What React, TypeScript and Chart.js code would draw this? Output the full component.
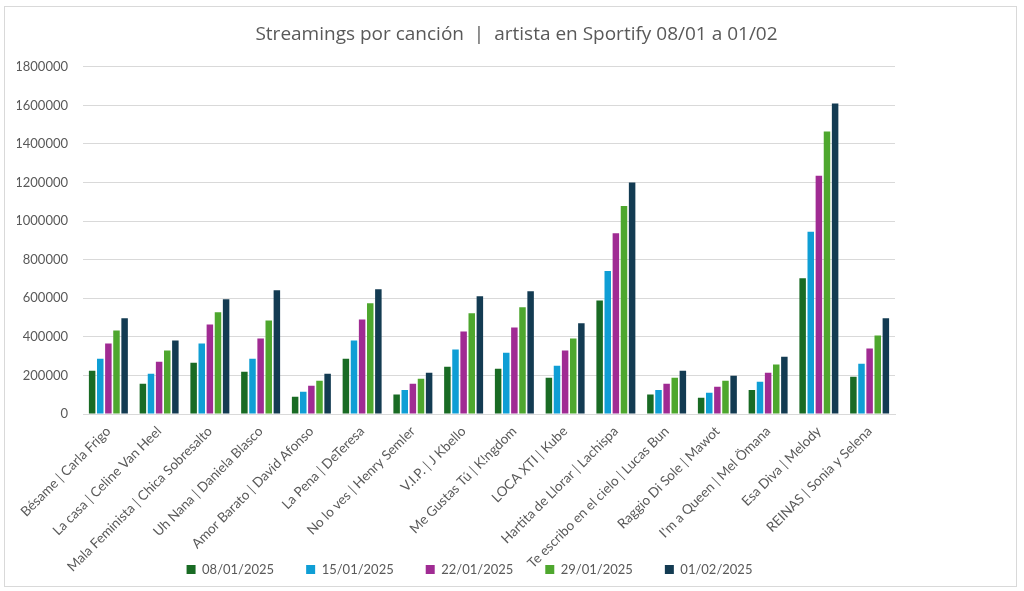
import { useEffect, useRef } from "react";
import { Chart, registerables } from "chart.js";

Chart.register(...registerables);

const songs = [
  "Bésame | Carla Frigo",
  "La casa | Celine Van Heel",
  "Mala Feminista | Chica Sobresalto",
  "Uh Nana | Daniela Blasco",
  "Amor Barato | David Afonso",
  "La Pena | DeTeresa",
  "No lo ves | Henry Semler",
  "V.I.P. | J Kbello",
  "Me Gustas Tú | K!ngdom",
  "LOCA XTI | Kube",
  "Hartita de Llorar | Lachispa",
  "Te escribo en el cielo | Lucas Bun",
  "Raggio Di Sole | Mawot",
  "I'm a Queen | Mel Ömana",
  "Esa Diva | Melody",
  "REINAS | Sonia y Selena",
];

const dates = ["08/01/2025", "15/01/2025", "22/01/2025", "29/01/2025", "01/02/2025"];

const week1 = [224000, 157000, 266000, 219000, 89000, 287000, 101000, 245000, 235000, 188000, 588000, 101000, 84000, 125000, 704000, 193000];
const week2 = [287000, 209000, 365000, 287000, 115000, 381000, 125000, 334000, 318000, 250000, 742000, 125000, 110000, 167000, 945000, 261000];
const week3 = [365000, 271000, 464000, 391000, 146000, 490000, 157000, 428000, 449000, 329000, 937000, 157000, 141000, 214000, 1235000, 339000];
const week4 = [433000, 329000, 527000, 485000, 172000, 574000, 183000, 522000, 553000, 391000, 1078000, 188000, 172000, 256000, 1464000, 407000];
const week5 = [496000, 381000, 595000, 642000, 209000, 647000, 214000, 610000, 637000, 470000, 1200000, 224000, 198000, 297000, 1610000, 496000];

const colors = ["#196B24", "#0F9ED5", "#A02B93", "#4EA72E", "#133B52"];

const TITLE_FONT = "'Open Sans', sans-serif";
const FONT = "Lato, sans-serif";
const TEXT = "#595959";
const GRID = "#d9d9d9";

// Chart.js widens the left margin for long rotated labels, the original lets them hang
// out past the axis, so the category labels are drawn here at the axis ticks instead
const slantedLabels = {
  id: "slantedLabels",
  afterDraw(chart) {
    const x = chart.scales.x;
    const ctx = chart.ctx;
    ctx.save();
    ctx.font = `13.5px ${FONT}`;
    ctx.fillStyle = TEXT;
    ctx.textAlign = "right";
    ctx.textBaseline = "middle";
    x.getLabels().forEach((label, i) => {
      ctx.save();
      ctx.translate(x.getPixelForTick(i), x.top + 15);
      ctx.rotate(-Math.PI / 4);
      ctx.fillText(label, 0, 0);
      ctx.restore();
    });
    ctx.restore();
  },
};

export default function App() {
  const canvasRef = useRef<HTMLCanvasElement>(null);
  const chartRef = useRef<Chart | null>(null);

  useEffect(() => {
    if (!canvasRef.current) return;
    if (chartRef.current) chartRef.current.destroy();

    const series = [week1, week2, week3, week4, week5];

    chartRef.current = new Chart(canvasRef.current, {
      type: "bar",
      data: {
        labels: songs,
        datasets: series.map((data, i) => ({
          label: dates[i],
          data,
          backgroundColor: colors[i],
          categoryPercentage: 0.8,
          barPercentage: 0.8,
        })),
      },
      plugins: [slantedLabels],
      options: {
        responsive: true,
        maintainAspectRatio: false,
        animation: false,
        layout: { padding: { left: 12, right: 0, bottom: 0 } },
        plugins: {
          title: {
            display: true,
            text: "Streamings por canción  |  artista en Sportify 08/01 a 01/02",
            color: TEXT,
            font: { family: TITLE_FONT, size: 19, weight: "normal" },
            padding: { top: 16, bottom: 21 },
          },
          legend: {
            position: "bottom",
            fullSize: false,
            labels: {
              color: TEXT,
              font: { family: FONT, size: 13 },
              boxWidth: 9,
              boxHeight: 9,
              padding: 6,
              generateLabels: (chart) => {
                const items = Chart.defaults.plugins.legend.labels.generateLabels(chart);
                return items.map((item, i) => ({
                  ...item,
                  text:
                    item.text +
                    (i === items.length - 1 ? "\u2003\u2003\u2003\u2003" : "\u2003\u2003\u2002"),
                }));
              },
            },
          },
          tooltip: { enabled: false },
        },
        scales: {
          x: {
            grid: { display: false, drawTicks: false },
            border: { color: GRID },
            ticks: { display: false },
            afterFit: (scale) => {
              scale.height = 143;
            },
          },
          y: {
            min: 0,
            max: 1800000,
            border: { display: false },
            grid: { color: GRID, drawTicks: false },
            ticks: {
              stepSize: 200000,
              color: TEXT,
              font: { family: FONT, size: 13 },
              padding: 15,
              callback: (v) => String(v),
            },
            afterFit: (scale) => {
              scale.width = 66;
            },
          },
          spacer: {
            type: "linear",
            position: "right",
            grid: { display: false, drawTicks: false },
            border: { display: false },
            ticks: { display: false },
            afterFit: (scale) => {
              scale.width = 121;
            },
          },
        },
      },
    });

    return () => chartRef.current?.destroy();
  }, []);

  return (
    <div
      style={{
        position: "absolute",
        left: 4,
        top: 6,
        width: 1013,
        height: 581,
        border: "1px solid #d9d9d9",
        boxSizing: "border-box",
        background: "#fff",
      }}
    >
      <canvas ref={canvasRef} />
    </div>
  );
}
